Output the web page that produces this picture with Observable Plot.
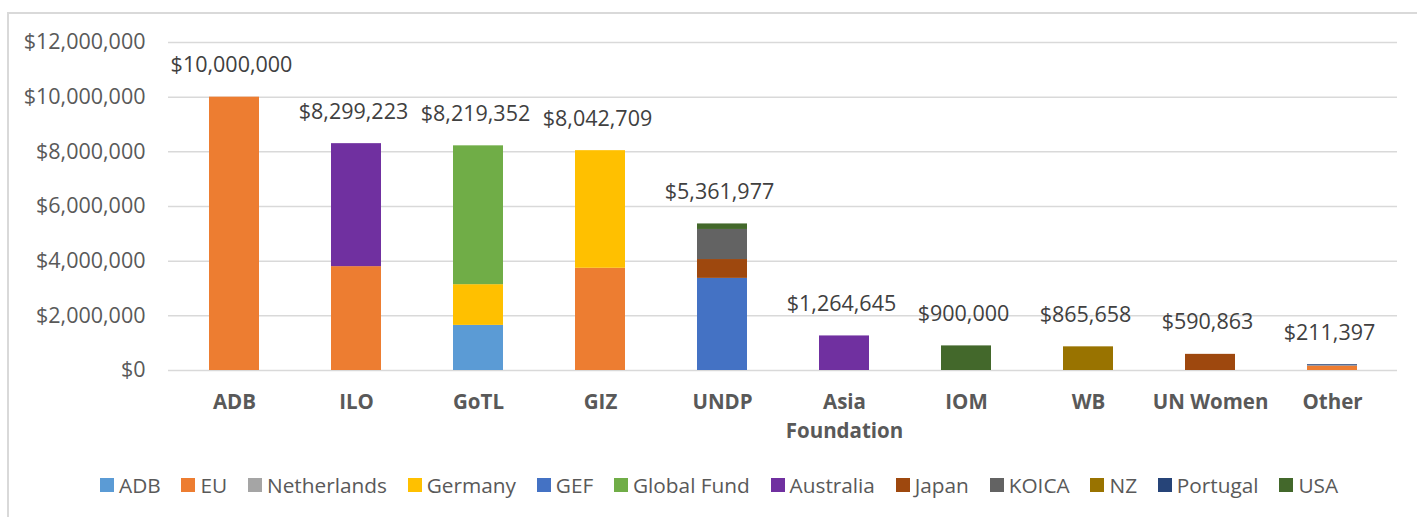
<!DOCTYPE html>
<html>
<head>
<meta charset="utf-8">
<script src="https://cdn.jsdelivr.net/npm/d3@7"></script>
<script src="https://cdn.jsdelivr.net/npm/@observablehq/plot@0.6"></script>
<style>
  body { margin: 0; background: #fff; }
  #wrap { position: relative; width: 1417px; height: 517px; overflow: hidden; font-family: "Open Sans", sans-serif; }
  #frame { position: absolute; left: 7px; top: 12px; width: 1500px; height: 600px; border-left: 2px solid #d9d9d9; border-top: 2px solid #d9d9d9; }
  #chart { position: absolute; left: 0; top: 0; }
  #legend { position: absolute; left: 100px; top: 470px; display: flex; align-items: center; font-size: 20.8px; line-height: 30px; color: #595959; white-space: nowrap; }
  #legend .item { display: flex; align-items: center; margin-right: 20.8px; }
  #legend .sw { width: 14px; height: 14px; margin-right: 5px; }
</style>
</head>
<body>
<div id="wrap">
  <div id="frame"></div>
  <div id="chart"></div>
  <div id="legend"></div>
</div>
<script>
// Categories (implementing agencies)
const agencies = ["ADB", "ILO", "GoTL", "GIZ", "UNDP", "Asia Foundation", "IOM", "WB", "UN Women", "Other"];
// Donors (series) and colours
const donors = ["ADB", "EU", "Netherlands", "Germany", "GEF", "Global Fund", "Australia", "Japan", "KOICA", "NZ", "Portugal", "USA"];
const donorColors = ["#5B9BD5", "#ED7D31", "#A5A5A5", "#FFC000", "#4472C4", "#70AD47", "#7030A0", "#9E480E", "#636363", "#997300", "#264478", "#43682B"];

// Series values per agency (same order as agencies)
const fromADB         = [0, 0, 1650000, 0, 0, 0, 0, 0, 0, 0];
const fromEU          = [10000000, 3800000, 0, 3740000, 0, 0, 0, 0, 0, 160000];
const fromNetherlands = [0, 0, 0, 0, 0, 0, 0, 0, 0, 11397];
const fromGermany     = [0, 0, 1490000, 4302709, 0, 0, 0, 0, 0, 0];
const fromGEF         = [0, 0, 0, 0, 3370000, 0, 0, 0, 0, 0];
const fromGlobalFund  = [0, 0, 5079352, 0, 0, 0, 0, 0, 0, 0];
const fromAustralia   = [0, 4499223, 0, 0, 0, 1264645, 0, 0, 0, 0];
const fromJapan       = [0, 0, 0, 0, 690000, 0, 0, 0, 590863, 0];
const fromKOICA       = [0, 0, 0, 0, 1100000, 0, 0, 0, 0, 0];
const fromNZ          = [0, 0, 0, 0, 0, 0, 0, 865658, 0, 0];
const fromPortugal    = [0, 0, 0, 0, 0, 0, 0, 0, 0, 40000];
const fromUSA         = [0, 0, 0, 0, 201977, 0, 900000, 0, 0, 0];

// Totals shown as data labels
const totals = [10000000, 8299223, 8219352, 8042709, 5361977, 1264645, 900000, 865658, 590863, 211397];

// Y-axis ticks
const yTicks = [0, 2000000, 4000000, 6000000, 8000000, 10000000, 12000000];

const seriesValues = [fromADB, fromEU, fromNetherlands, fromGermany, fromGEF, fromGlobalFund,
  fromAustralia, fromJapan, fromKOICA, fromNZ, fromPortugal, fromUSA];

const rows = [];
donors.forEach((d, i) => {
  agencies.forEach((a, j) => {
    if (seriesValues[i][j] > 0) rows.push({agency: a, donor: d, value: seriesValues[i][j]});
  });
});
const totalRows = agencies.map((a, j) => ({agency: a, total: totals[j]}));

const fmt = d3.format(",");
const labelText = a => a === "Asia Foundation" ? "Asia\nFoundation" : a;

const chart = Plot.plot({
  width: 1417,
  height: 452,
  marginLeft: 168,
  marginRight: 20,
  marginTop: 42,
  marginBottom: 82,
  style: {fontFamily: "'Open Sans', sans-serif", background: "transparent"},
  x: {domain: agencies, paddingInner: 0.593, paddingOuter: 0.2965, axis: null},
  y: {domain: [0, 12000000], axis: null},
  color: {domain: donors, range: donorColors},
  marks: [
    Plot.gridY(yTicks, {stroke: "#d9d9d9", strokeOpacity: 1, strokeWidth: 1.5}),
    Plot.axisY(yTicks, {tickSize: 0, tickPadding: 23, fontSize: 21.5, fill: "#595959",
      tickFormat: d => "$" + fmt(d)}),
    Plot.barY(rows, Plot.stackY({order: donors}, {x: "agency", y: "value", fill: "donor"})),
    Plot.text(totalRows, {x: "agency", y: "total", text: d => "$" + fmt(d.total),
      dy: -32, dx: -3, fontSize: 21.5, fill: "#404040"}),
    Plot.text(agencies, {x: d => d, y: () => 0, text: labelText, dy: 17, lineAnchor: "top",
      lineHeight: 1.45, fontSize: 20.5, fontWeight: "bold", fill: "#595959"})
  ]
});
document.getElementById("chart").appendChild(chart);

const legend = document.getElementById("legend");
donors.forEach((d, i) => {
  const item = document.createElement("div");
  item.className = "item";
  const sw = document.createElement("span");
  sw.className = "sw";
  sw.style.background = donorColors[i];
  const t = document.createElement("span");
  t.textContent = d;
  item.appendChild(sw);
  item.appendChild(t);
  legend.appendChild(item);
});
</script>
</body>
</html>
